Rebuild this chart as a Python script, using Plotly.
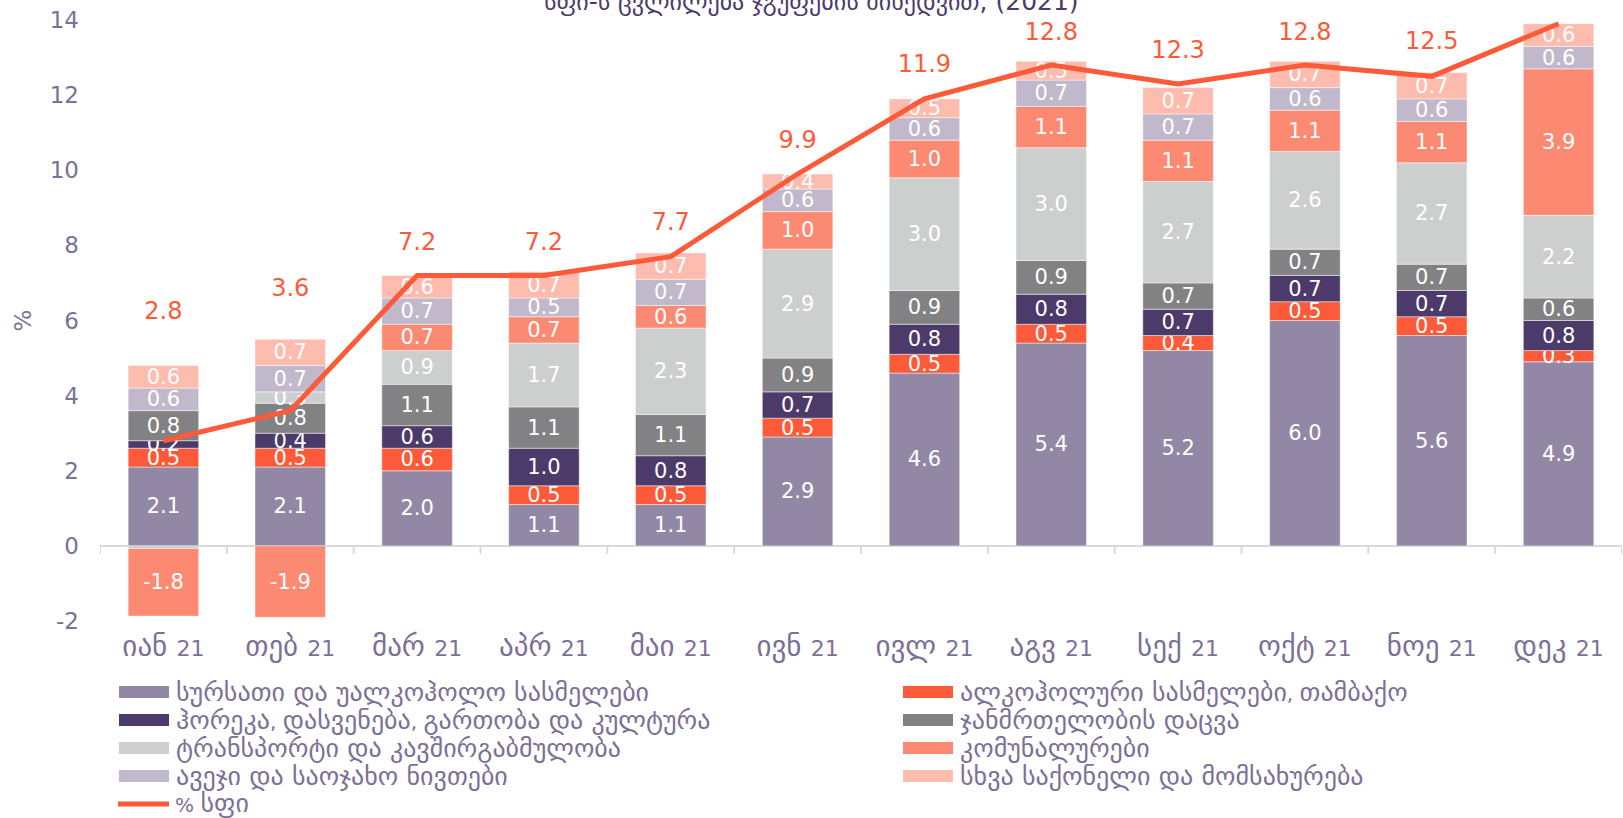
import plotly.graph_objects as go

# ---------------- data ----------------
months = ["იან 21", "თებ 21", "მარ 21", "აპრ 21", "მაი 21", "ივნ 21",
          "ივლ 21", "აგვ 21", "სექ 21", "ოქტ 21", "ნოე 21", "დეკ 21"]

food      = [2.1, 2.1, 2.0, 1.1, 1.1, 2.9, 4.6, 5.4, 5.2, 6.0, 5.6, 4.9]
alcohol   = [0.5, 0.5, 0.6, 0.5, 0.5, 0.5, 0.5, 0.5, 0.4, 0.5, 0.5, 0.3]
horeca    = [0.2, 0.4, 0.6, 1.0, 0.8, 0.7, 0.8, 0.8, 0.7, 0.7, 0.7, 0.8]
health    = [0.8, 0.8, 1.1, 1.1, 1.1, 0.9, 0.9, 0.9, 0.7, 0.7, 0.7, 0.6]
transport = [-0.07, 0.3, 0.9, 1.7, 2.3, 2.9, 3.0, 3.0, 2.7, 2.6, 2.7, 2.2]
utilities = [-1.8, -1.9, 0.7, 0.7, 0.6, 1.0, 1.0, 1.1, 1.1, 1.1, 1.1, 3.9]
household = [0.6, 0.7, 0.7, 0.5, 0.7, 0.6, 0.6, 0.7, 0.7, 0.6, 0.6, 0.6]
other     = [0.6, 0.7, 0.6, 0.7, 0.7, 0.4, 0.5, 0.5, 0.7, 0.7, 0.7, 0.6]
cpi       = [2.8, 3.6, 7.2, 7.2, 7.7, 9.9, 11.9, 12.8, 12.3, 12.8, 12.5, 13.9]

series_names = [
    "სურსათი და უალკოჰოლო სასმელები",
    "ალკოჰოლური სასმელები, თამბაქო",
    "ჰორეკა, დასვენება, გართობა და კულტურა",
    "ჯანმრთელობის დაცვა",
    "ტრანსპორტი და კავშირგაბმულობა",
    "კომუნალურები",
    "ავეჯი და საოჯახო ნივთები",
    "სხვა საქონელი და მომსახურება",
]
line_name = "% სფი"
title_text = "სფი-ს ცვლილება ჯგუფების მიხედვით, (2021)"
y_ticks = [-2, 0, 2, 4, 6, 8, 10, 12, 14]

# ---------------- styles ----------------
series_values = [food, alcohol, horeca, health, transport, utilities, household, other]
colors = ["#9288A6", "#FC5A38", "#4B3A6A", "#828284",
          "#CDCFCE", "#FC8A73", "#C1B9CB", "#FDBCAD"]
line_color = "#FC5A38"
axis_text = "#7D7096"
title_color = "#4B3A6A"
FONT = "DejaVu Sans"
label_offsets = [3.4, 3.2, 0.85, 0.85, 0.87, 0.85, 0.88, 0.82, 0.85, 0.82, 0.9, 0.85]

W, H = 1623, 818
ML, MR, MT, MB = 100, 1, 20, 197
PW, PH = W - ML - MR, H - MT - MB
Y0, Y1 = -2, 14


def px_x(px):
    return (px - ML) / PW


def px_y(py):
    return (H - MB - py) / PH


def geo(text, size):
    """Enlarge runs of Georgian letters (the reference's Georgian face is larger)."""
    out, run, in_geo = [], "", False
    for ch in text:
        g = "\u10a0" <= ch <= "\u10ff"
        if ch == " " and in_geo:
            run += ch
            continue
        if g != in_geo and run:
            out.append(f'<span style="font-size:{size}px">{run}</span>' if in_geo else run)
            run = ""
        in_geo = g if ch != " " else in_geo
        run += ch
    if run:
        out.append(f'<span style="font-size:{size}px">{run}</span>' if in_geo else run)
    return "".join(out)


fig = go.Figure()

for name, vals, col in zip(series_names, series_values, colors):
    fig.add_trace(go.Bar(
        x=months, y=vals, name=name,
        marker=dict(color=col, line=dict(color="rgba(255,255,255,0.45)", width=1)),
        text=[f"{v:.1f}" if abs(v) >= 0.15 else "" for v in vals],
        textposition="inside", insidetextanchor="middle", textangle=0,
        constraintext="none",
        textfont=dict(family=FONT, size=21, color="white"),
        cliponaxis=False,
        showlegend=False,
    ))

fig.add_trace(go.Scatter(
    x=months, y=cpi, name=line_name, mode="lines",
    line=dict(color=line_color, width=5),
    showlegend=False,
))

fig.add_trace(go.Scatter(
    x=months, y=[c + o for c, o in zip(cpi, label_offsets)],
    mode="text", text=[f"{c:.1f}" for c in cpi],
    textposition="middle center",
    textfont=dict(family=FONT, size=24, color=line_color),
    cliponaxis=True, showlegend=False, hoverinfo="skip",
))

shapes = []
# category boundary ticks hanging from the zero line
for i in range(len(months) + 1):
    shapes.append(dict(type="line", xref="x", yref="y",
                       x0=i - 0.5, x1=i - 0.5, y0=0, y1=-0.21,
                       line=dict(color="#D9D9D9", width=2)))

annotations = []
# custom legend
col_x = [119, 903]
row_y = [692, 720, 748, 776]
for k, (name, col) in enumerate(zip(series_names, colors)):
    r, c = divmod(k, 2)
    sx, sy = col_x[c], row_y[r]
    shapes.append(dict(type="rect", xref="paper", yref="paper",
                       x0=px_x(sx), x1=px_x(sx + 50),
                       y0=px_y(sy + 6), y1=px_y(sy - 6),
                       fillcolor=col, line=dict(width=0)))
    annotations.append(dict(xref="paper", yref="paper",
                            x=px_x(sx + 55), y=px_y(sy),
                            xanchor="left", yanchor="middle", showarrow=False,
                            text=geo(name, 26), font=dict(family=FONT, size=20, color=axis_text)))
# line legend entry
ly = 804
shapes.append(dict(type="line", xref="paper", yref="paper",
                   x0=px_x(118), x1=px_x(169), y0=px_y(ly), y1=px_y(ly),
                   line=dict(color=line_color, width=5)))
annotations.append(dict(xref="paper", yref="paper",
                        x=px_x(173), y=px_y(ly - 1),
                        xanchor="left", yanchor="middle", showarrow=False,
                        text=geo(line_name, 26), font=dict(family=FONT, size=20, color=axis_text)))

# y axis title
annotations.append(dict(xref="paper", yref="paper", x=px_x(22), y=0.5,
                        xanchor="center", yanchor="middle", showarrow=False,
                        text="%", textangle=-90,
                        font=dict(family=FONT, size=23, color=axis_text)))

# (clipped) chart title
annotations.append(dict(xref="paper", yref="paper", x=px_x(811), y=px_y(18),
                        xanchor="center", yanchor="bottom", showarrow=False,
                        text=geo(title_text, 24),
                        font=dict(family=FONT, size=25, color=title_color)))

fig.update_layout(
    width=W, height=H,
    margin=dict(l=ML, r=MR, t=MT, b=MB, autoexpand=False),
    barmode="relative", bargap=0.444,
    plot_bgcolor="white", paper_bgcolor="white",
    font=dict(family=FONT, color=axis_text),
    showlegend=False,
    shapes=shapes, annotations=annotations,
    xaxis=dict(type="category", range=[-0.5, len(months) - 0.5],
               tickmode="array", tickvals=months,
               ticktext=[geo(m, 29) for m in months],
               showline=False, showgrid=False, zeroline=False, ticks="",
               tickfont=dict(family=FONT, size=22, color=axis_text),
               ticklabelstandoff=12, fixedrange=True),
    yaxis=dict(range=[Y0, Y1], tickmode="array", tickvals=y_ticks,
               ticktext=[str(t) for t in y_ticks],
               showgrid=False, showline=False,
               zeroline=True, zerolinecolor="#D9D9D9", zerolinewidth=2,
               tickfont=dict(family=FONT, size=23, color=axis_text),
               ticklabelstandoff=20, fixedrange=True),
)

fig.write_html("out.html", config={"displayModeBar": False},
               post_script="document.body.style.margin='0';")
